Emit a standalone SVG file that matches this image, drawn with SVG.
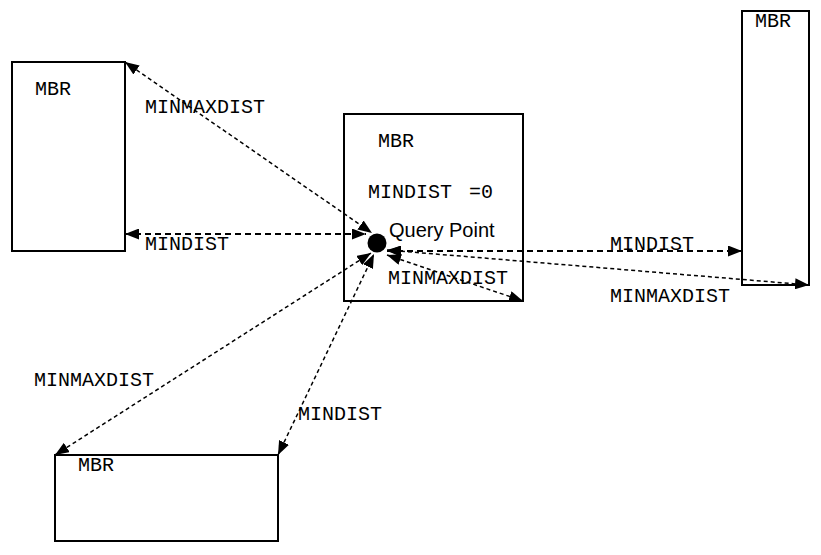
<svg xmlns="http://www.w3.org/2000/svg" width="821" height="555" viewBox="0 0 821 555">
<style>
.box{fill:#fff;stroke:#000;stroke-width:2}
.mono{font-family:"Liberation Mono","Courier New",monospace;font-size:20px;fill:#000}
.sans{font-family:"Liberation Sans",Arial,sans-serif;font-size:20px;fill:#000}
.c{fill:none;stroke:#000;stroke-width:1.5;stroke-dasharray:4 3;marker-start:url(#ah);marker-end:url(#ah)}
.h{stroke-width:2;stroke-dasharray:6 4}
</style>
<defs>
<marker id="ah" viewBox="0 0 14 11" refX="14" refY="5.5" markerWidth="14" markerHeight="11" markerUnits="userSpaceOnUse" orient="auto-start-reverse">
<path d="M0,0 L14,5.5 L0,11 Z" fill="#000"/>
</marker>
</defs>
<g id="mbr-left">
<rect class="box" x="12" y="62" width="113" height="189"/>
<text class="mono" x="35" y="95">MBR</text>
</g>
<g id="mbr-center">
<rect class="box" x="344" y="114" width="179" height="187"/>
<text class="mono" x="378" y="147">MBR</text>
<text class="mono" x="368" y="198" xml:space="preserve">MINDIST <tspan x="469">=0</tspan></text>
</g>
<g id="mbr-right">
<rect class="box" x="742" y="11" width="67" height="274"/>
<text class="mono" x="755" y="27">MBR</text>
</g>
<g id="mbr-bottom">
<rect class="box" x="55" y="455" width="223" height="86"/>
<text class="mono" x="78" y="471">MBR</text>
</g>
<g id="query-point">
<circle cx="377" cy="243" r="9.5" fill="#000"/>
<text class="sans" x="389" y="237">Query Point</text>
</g>
<g id="connectors">
<line class="c" x1="125" y1="62" x2="372" y2="233"/>
<line class="c h" x1="125" y1="234" x2="366" y2="234"/>
<line class="c h" x1="387" y1="251" x2="742" y2="251"/>
<line class="c" x1="387" y1="250" x2="809" y2="285"/>
<line class="c" x1="387" y1="255" x2="523" y2="301"/>
<line class="c" x1="55" y1="455" x2="371" y2="253"/>
<line class="c" x1="278" y1="455" x2="374" y2="254"/>
</g>
<g id="labels">
<text class="mono" x="145" y="113">MINMAXDIST</text>
<text class="mono" x="145" y="250">MINDIST</text>
<text class="mono" x="388" y="284">MINMAXDIST</text>
<text class="mono" x="610" y="250">MINDIST</text>
<text class="mono" x="610" y="302">MINMAXDIST</text>
<text class="mono" x="34" y="386">MINMAXDIST</text>
<text class="mono" x="298" y="420">MINDIST</text>
</g>
</svg>
